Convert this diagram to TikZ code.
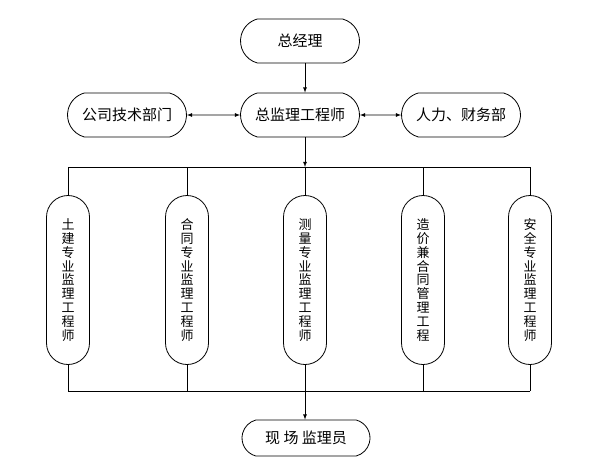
\documentclass[tikz,border=0pt]{standalone}
\usepackage{fontspec}
\setmainfont{Noto Sans CJK SC}
\usetikzlibrary{shapes.misc}
\tikzset{>=latex}
\tikzset{
  box/.style={draw, line width=.8pt, rounded rectangle, rounded rectangle arc length=150,
    minimum width=119pt, minimum height=44pt, inner sep=0pt, font=\fontsize{15}{16}\selectfont},
  vbox/.style={draw, line width=.8pt, rounded corners=21.5pt, minimum width=43pt,
    minimum height=169pt, inner sep=0pt, align=center, font=\fontsize{13}{13.8}\selectfont},
  wire/.style={line width=.8pt}
}

\begin{document}
\begin{tikzpicture}[x=1pt, y=-1pt]
    \useasboundingbox (0,0) rectangle (596,474);
    \node[box] (zjl) at (300,41) {总经理};
    \node[box] (zjg) at (300,115) {总监理工程师};
    \node[box] (jsb) at (127,115) {公司技术部门};
    \node[box] (cwb) at (461,115) {人力、财务部};
    \node[vbox] (tj) at (68,280) {土\\建\\专\\业\\监\\理\\工\\程\\师};
    \node[vbox] (ht) at (187,280) {合\\同\\专\\业\\监\\理\\工\\程\\师};
    \node[vbox] (cl) at (305,280) {测\\量\\专\\业\\监\\理\\工\\程\\师};
    \node[vbox] (zj) at (423,280) {造\\价\\兼\\合\\同\\管\\理\\工\\程};
    \node[vbox] (aq) at (530,280) {安\\全\\专\\业\\监\\理\\工\\程\\师};
    \node[box, minimum width=128pt, minimum height=36pt] (jly) at (306,438) {现 场 监理员};
    \coordinate (top) at (305,167);
    \coordinate (bot) at (305,391);
    \draw[wire, ->] (zjl.south -| top) -- (zjg.north -| top);
    \draw[wire, <->] (jsb) -- (zjg);
    \draw[wire, <->] (zjg) -- (cwb);
    \draw[wire, ->] (zjg.south -| top) -- (top);
    \draw[wire] (tj.north |- top) -- (aq.north |- top);
    \draw[wire] (tj.south |- bot) -- (aq.south |- bot);
    \foreach \n in {tj,ht,cl,zj,aq}
        \draw[wire] (\n.north) -- (\n.north |- top) (\n.south) -- (\n.south |- bot);
    \draw[wire, ->] (bot) -- (jly.north -| bot);
\end{tikzpicture}
\end{document}
